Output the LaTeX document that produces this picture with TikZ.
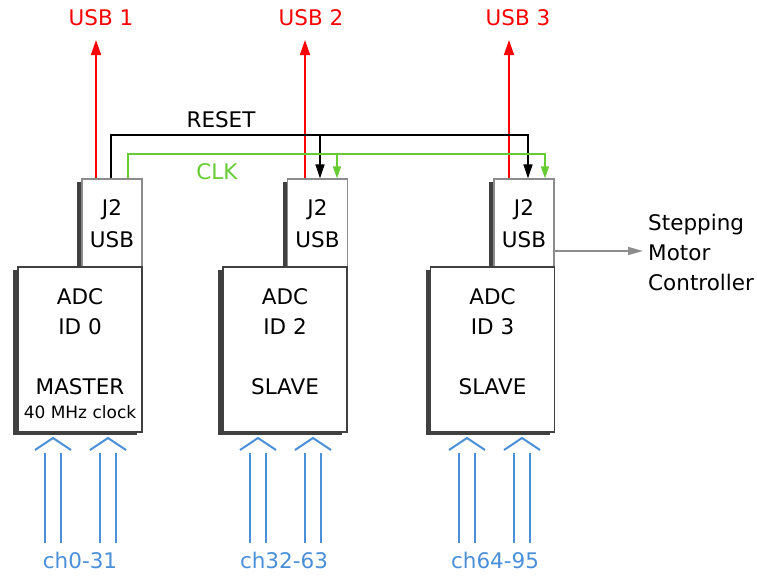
\documentclass[tikz,border=0pt]{standalone}
\usepackage{fontspec}
\setmainfont{DejaVu Sans}
\usetikzlibrary{arrows.meta,shadows,calc}
\definecolor{usbred}{RGB}{255,0,0}
\definecolor{clkgreen}{RGB}{102,204,51}
\definecolor{chblue}{RGB}{74,144,217}
\begin{document}
\begin{tikzpicture}[x=1pt,y=-1pt,
  txt/.style={font=\fontsize{21.5}{24}\selectfont, inner sep=0pt},
  small/.style={font=\fontsize{17}{20}\selectfont, inner sep=0pt},
  box/.style={draw=black!75, line width=1.2pt, fill=white,
    drop shadow={shadow xshift=-5pt, shadow yshift=-3pt, fill=black!75, opacity=1}},
  jbox/.style={draw=black!45, line width=1.2pt, fill=white, minimum width=60pt, minimum height=88pt, inner sep=0pt,
    drop shadow={shadow xshift=-5pt, shadow yshift=-3pt, fill=black!75, opacity=1}},
  adcbox/.style={box, minimum width=124pt, minimum height=165pt, inner sep=0pt},
  usbline/.style={usbred, line width=1.5pt, -{Triangle[length=15pt,width=10pt]}},
  sig/.style={line width=1.5pt},
  tip/.style={-{Triangle[length=14pt,width=9pt]}},
  chline/.style={chblue, line width=2pt}
]
\useasboundingbox (0,0) rectangle (757,576);

% J2 boxes
\node[jbox] (j1) at (112,223) {};
\node[jbox] (j2) at (317.5,223) {};
\node[jbox] (j3) at (524,223) {};
% ADC boxes
\node[adcbox] (a1) at (80,349.5) {};
\node[adcbox] (a2) at (285,349.5) {};
\node[adcbox] (a3) at (492.5,349.5) {};

% J2 texts
\foreach \n/\x in {1/112, 2/317.5, 3/524} {
  \node[txt] (jt\n) at (\x,210) {J2};
  \node[txt] (ju\n) at (\x,240) {USB};
}
% ADC texts
\node[txt] (ad1) at (80,297) {ADC};
\node[txt] (id1) at (80,327) {ID 0};
\node[txt] (ms1) at (80,387) {MASTER};
\node[small] (ck1) at (80,412) {40 MHz clock};
\node[txt] (ad2) at (285,297) {ADC};
\node[txt] (id2) at (285,327) {ID 2};
\node[txt] (ms2) at (285,387) {SLAVE};
\node[txt] (ad3) at (492.5,297) {ADC};
\node[txt] (id3) at (492.5,327) {ID 3};
\node[txt] (ms3) at (492.5,387) {SLAVE};

% USB labels and arrows
\node[txt, text=usbred] (u1) at (101,18) {USB 1};
\node[txt, text=usbred] (u2) at (311,18) {USB 2};
\node[txt, text=usbred] (u3) at (518,18) {USB 3};
\coordinate (t1) at (96,40);
\coordinate (t2) at (305,40);
\coordinate (t3) at (509,40);
\draw[usbline] (j1.north -| t1) -- (t1);
\draw[usbline] (j2.north -| t2) -- (t2);
\draw[usbline] (j3.north -| t3) -- (t3);

% RESET
\coordinate (r0) at (111,135);
\coordinate (r2) at (320,135);
\coordinate (r3) at (528,135);
\draw[sig, black, tip] (j1.north -| r0) -- (r0) -- (r3) -- (j3.north -| r3);
\draw[sig, black, tip] (r2) -- (j2.north -| r2);
\node[txt] (reset) at (221,120) {RESET};

% CLK
\coordinate (c0) at (128,154);
\coordinate (c2) at (337,154);
\coordinate (c3) at (545,154);
\draw[sig, clkgreen, -{Triangle[length=12pt,width=8pt]}] (j1.north -| c0) -- (c0) -- (c3) -- (j3.north -| c3);
\draw[sig, clkgreen, -{Triangle[length=12pt,width=8pt]}] (c2) -- (j2.north -| c2);
\node[txt, text=clkgreen] (clk) at (217,172) {CLK};

% Stepping motor controller
\node[txt, align=left, anchor=west, font=\fontsize{21.5}{30}\selectfont] (smc) at (648,252) {Stepping\\Motor\\Controller};
\coordinate (g1) at (643,251);
\draw[black!45, line width=1.5pt, -{Triangle[length=15pt,width=8pt]}] (j3.east |- g1) -- (g1);

% channel inputs
\foreach \c in {53,108,258,313,467,522} {
  \draw[chline] (\c-8,543) -- (\c-8,453);
  \draw[chline] (\c+8,543) -- (\c+8,453);
  \draw[chline] (\c-18,450) -- (\c,438) -- (\c+18,450);
}
\node[txt, text=chblue] (ch1) at (80,560) {ch0-31};
\node[txt, text=chblue] (ch2) at (284,560) {ch32-63};
\node[txt, text=chblue] (ch3) at (495,560) {ch64-95};
\end{tikzpicture}
\end{document}
